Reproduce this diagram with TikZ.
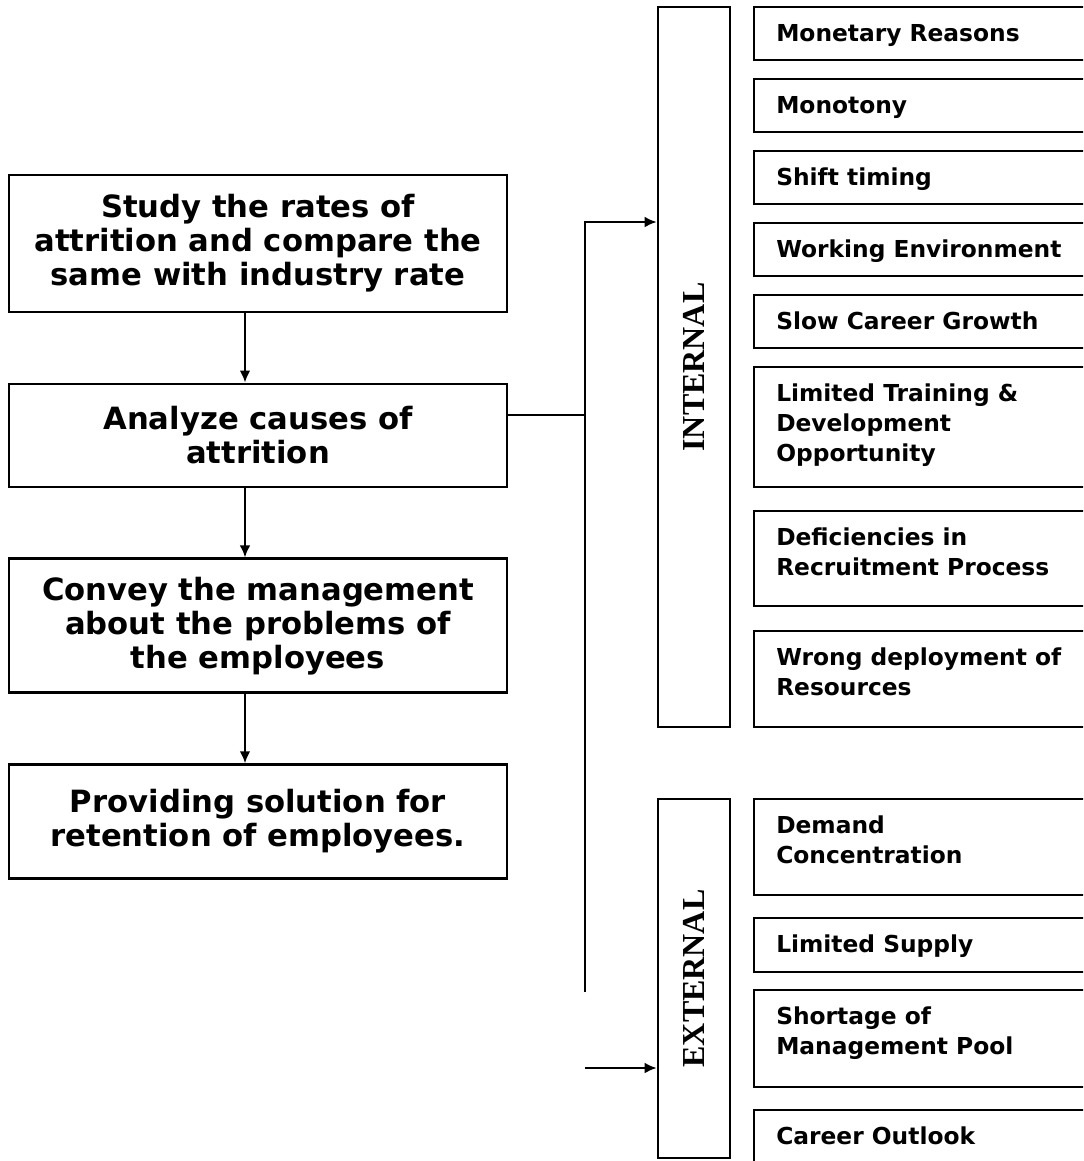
\documentclass[tikz,border=0pt]{standalone}
\usepackage{fontspec}
\newfontfamily\verd{DejaVu Sans}
\newfontfamily\tnr{Liberation Serif}
\usetikzlibrary{calc,arrows.meta,chains,positioning}

\tikzset{
  stagebox/.style={draw,line width=1.9pt,minimum width=373.5pt,align=center,inner sep=0pt,
    font=\verd\bfseries\fontsize{23}{25.5}\selectfont},
  groupbox/.style={draw,line width=1.9pt,minimum width=54pt,inner sep=0pt,
    font=\tnr\bfseries\fontsize{24}{28}\selectfont},
  causebox/.style={draw,line width=1.9pt},
  causetext/.style={anchor=north west,inner sep=0pt,align=left,
    font=\verd\bfseries\fontsize{17.5}{22.5}\selectfont},
  flow/.style={line width=1.6pt,-{Latex[length=9pt,width=8pt]}},
  link/.style={line width=1.6pt}
}

\begin{document}
\begin{tikzpicture}[x=0.75pt,y=-0.75pt]
\clip (0,0) rectangle (1083,1161);

% process steps
\begin{scope}[shift={(258,243.5)},start chain=going below,node distance=52pt]
\node [stagebox,on chain,minimum height=102.75pt] (s1)
  {Study the rates of\\attrition and compare the\\same with industry rate};
\node [stagebox,on chain,minimum height=77.25pt] (s2)
  {Analyze causes of\\attrition};
\node [stagebox,on chain,minimum height=100.5pt] (s3)
  {Convey the management\\about the problems of\\the employees};
\node [stagebox,on chain,minimum height=85.5pt] (s4)
  {Providing solution for\\retention of employees.};
\end{scope}

\draw[flow] ([xshift=-9.75pt]s1.south) -- ([xshift=-9.75pt]s2.north);
\draw[flow] ([xshift=-9.75pt]s2.south) -- ([xshift=-9.75pt]s3.north);
\draw[flow] ([xshift=-9.75pt]s3.south) -- ([xshift=-9.75pt]s4.north);

% groups of causes
\node [groupbox,minimum height=540pt] (int) at (694,367) {\rotatebox{90}{INTERNAL}};
\node [groupbox,minimum height=269.25pt] (ext) at (694,978.5) {\rotatebox{90}{EXTERNAL}};

\coordinate (jn) at (585,415);
\coordinate (intin) at (585,222);
\coordinate (gap) at (585,992);
\coordinate (extin) at (585,1068);

\draw[link] (s2.east |- jn) -- (jn);
\draw[flow] (gap) -- (intin) -- (intin -| int.west);
\draw[flow] (extin) -- (extin -| ext.west);

% causes
\foreach \n/\ya/\yb/\txt in {
  1/7/60/{Monetary Reasons},
  2/79/132/{Monotony},
  3/151/204/{Shift timing},
  4/223/276/{Working Environment},
  5/295/348/{Slow Career Growth},
  6/367/487/{Limited Training \&\\Development\\Opportunity},
  7/511/606/{Deficiencies in\\Recruitment Process},
  8/631/727/{Wrong deployment of\\Resources},
  9/799/895/{Demand\\Concentration},
  10/918/972/{Limited Supply},
  11/990/1087/{Shortage of\\Management Pool},
  12/1110/1180/{Career Outlook}}
{
  \draw[causebox] (754,\ya) rectangle (1100,\yb);
  \node[causetext] (c\n) at (776,\ya+13) {\strut\txt};
}

\end{tikzpicture}
\end{document}
